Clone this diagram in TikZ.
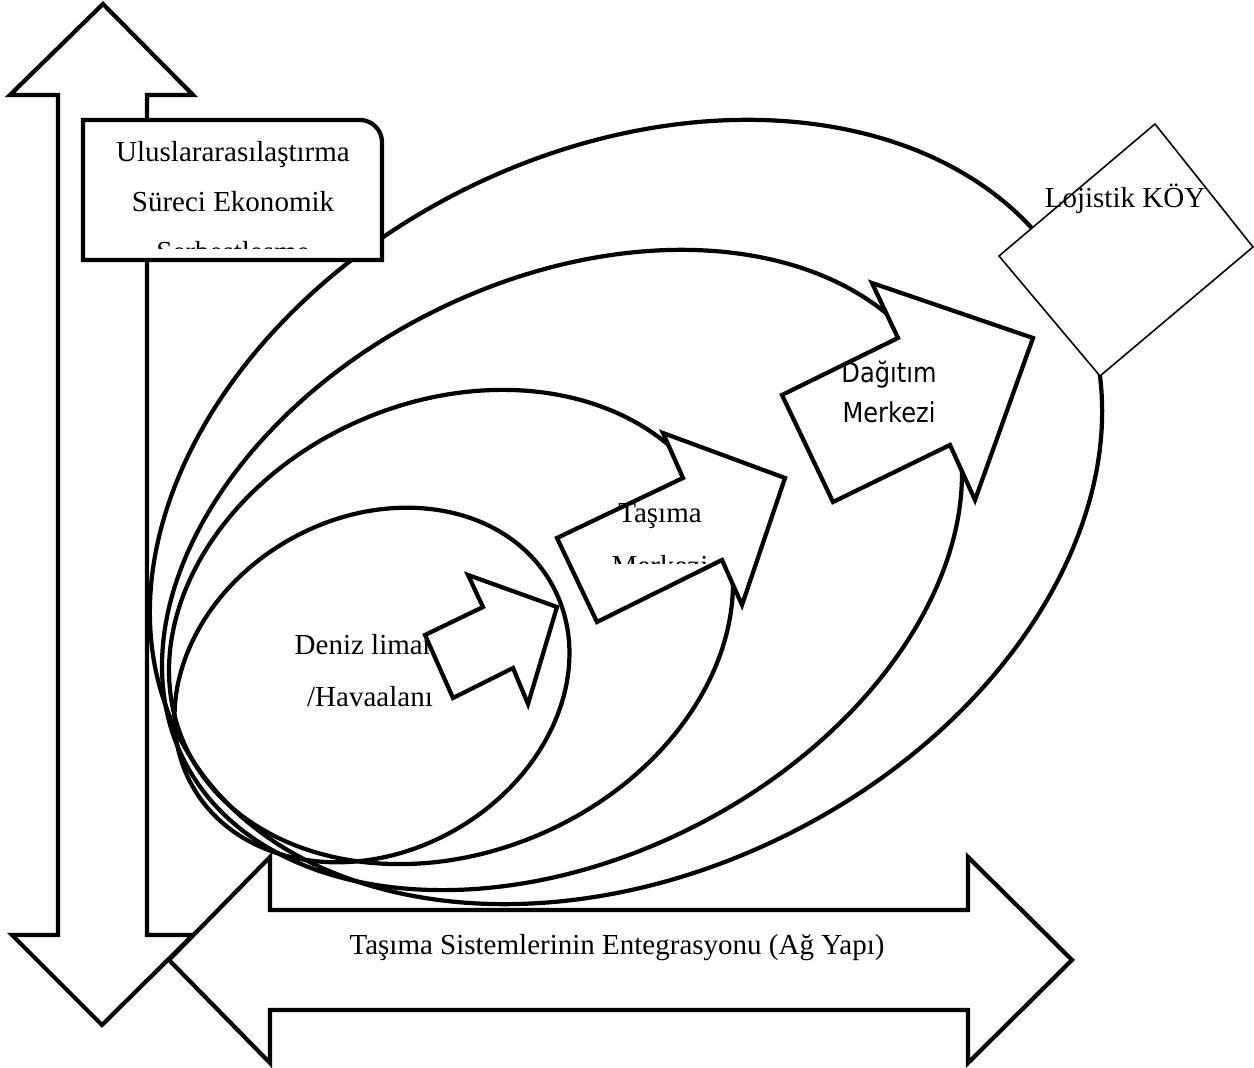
\documentclass[tikz,border=0pt]{standalone}
\usepackage{fontspec}
\setmainfont{Liberation Serif}
\newfontfamily\arrowsans[FakeStretch=0.88]{DejaVu Sans}
\begin{document}
\begin{tikzpicture}[x=0.01cm, y=-0.01cm,
  outline/.style={line width=1.2pt, line join=miter},
  solid block/.style={outline, fill=white},
  thinbox/.style={line width=0.45pt, fill=white},
  serif lbl/.style={font=\fontsize{8.25}{10}\selectfont, inner sep=0pt, anchor=base},
  sans lbl/.style={font=\arrowsans\fontsize{7.8}{9}\selectfont, inner sep=0pt, anchor=base}]
\useasboundingbox (0,0) rectangle (1254,1068);

% vertical double arrow
\draw[solid block] (103,4) -- (193,95) -- (147,95) -- (147,935) -- (193,935)
  -- (102,1025) -- (12,935) -- (58,935) -- (58,95) -- (10,95) -- cycle;

% horizontal double arrow
\draw[solid block] (169,960) -- (270,857) -- (270,910) -- (968,910) -- (968,857)
  -- (1072,960) -- (968,1063) -- (968,1010) -- (270,1010) -- (270,1063) -- cycle;
\node[serif lbl] (network) at (617,955) {Taşıma Sistemlerinin Entegrasyonu (Ağ Yapı)};

% nested ellipses
\draw[outline, rotate around={26.35:(626,512)}] (626,512) ellipse [x radius=5.00cm, y radius=3.605cm];
\draw[outline, rotate around={26.6:(562,570)}] (562,570) ellipse [x radius=4.23cm, y radius=2.884cm];
\draw[outline, rotate around={23.3:(451,627)}] (451,627) ellipse [x radius=2.91cm, y radius=2.255cm];
\draw[outline, rotate around={29.4:(372,685)}] (372,685) ellipse [x radius=2.06cm, y radius=1.67cm];

% text box, top right corner rounded
\draw[solid block] (83,260) -- (83,120) -- (360,120) .. controls (372,120) and (382,130) .. (382,142)
  -- (382,260) -- cycle;
\node[serif lbl] (ulus1) at (233,162) {Uluslararasılaştırma};
\node[serif lbl] (ulus2) at (233,212) {Süreci Ekonomik};
\begin{scope}
  \clip (85,122) rectangle (380,249);
  \node[serif lbl] (ulus3) at (233,262) {Serbestleşme};
\end{scope}

% village diamond
\draw[thinbox] (1155,124) -- (1253,247) -- (1100,376) -- (999,256) -- cycle;
\node[serif lbl] (koy) at (1125,208) {Lojistik KÖY};

% sea port / airport
\node[serif lbl] (deniz1) at (370,655) {Deniz limanı};
\node[serif lbl] (deniz2) at (370,707) {/Havaalanı};
\draw[solid block] (425,635) -- (483,607) -- (468,575) -- (557,607) -- (528,704)
  -- (513,668) -- (453,698) -- cycle;

% transport centre
\draw[solid block] (557,538) -- (683,478) -- (663,433) -- (785,478) -- (742,605)
  -- (722,560) -- (597,622) -- cycle;
\node[serif lbl] (tasima1) at (660,523) {Taşıma};
\begin{scope}
  \clip (560,530) rectangle (760,564);
  \node[serif lbl] (tasima2) at (660,576) {Merkezi};
\end{scope}

% distribution centre
\draw[solid block] (782,395) -- (898,338) -- (872,283) -- (1033,338) -- (975,500)
  -- (950,445) -- (833,502) -- cycle;
\node[sans lbl] (dagitim1) at (889,383) {Dağıtım};
\node[sans lbl] (dagitim2) at (889,423) {Merkezi};
\end{tikzpicture}
\end{document}
